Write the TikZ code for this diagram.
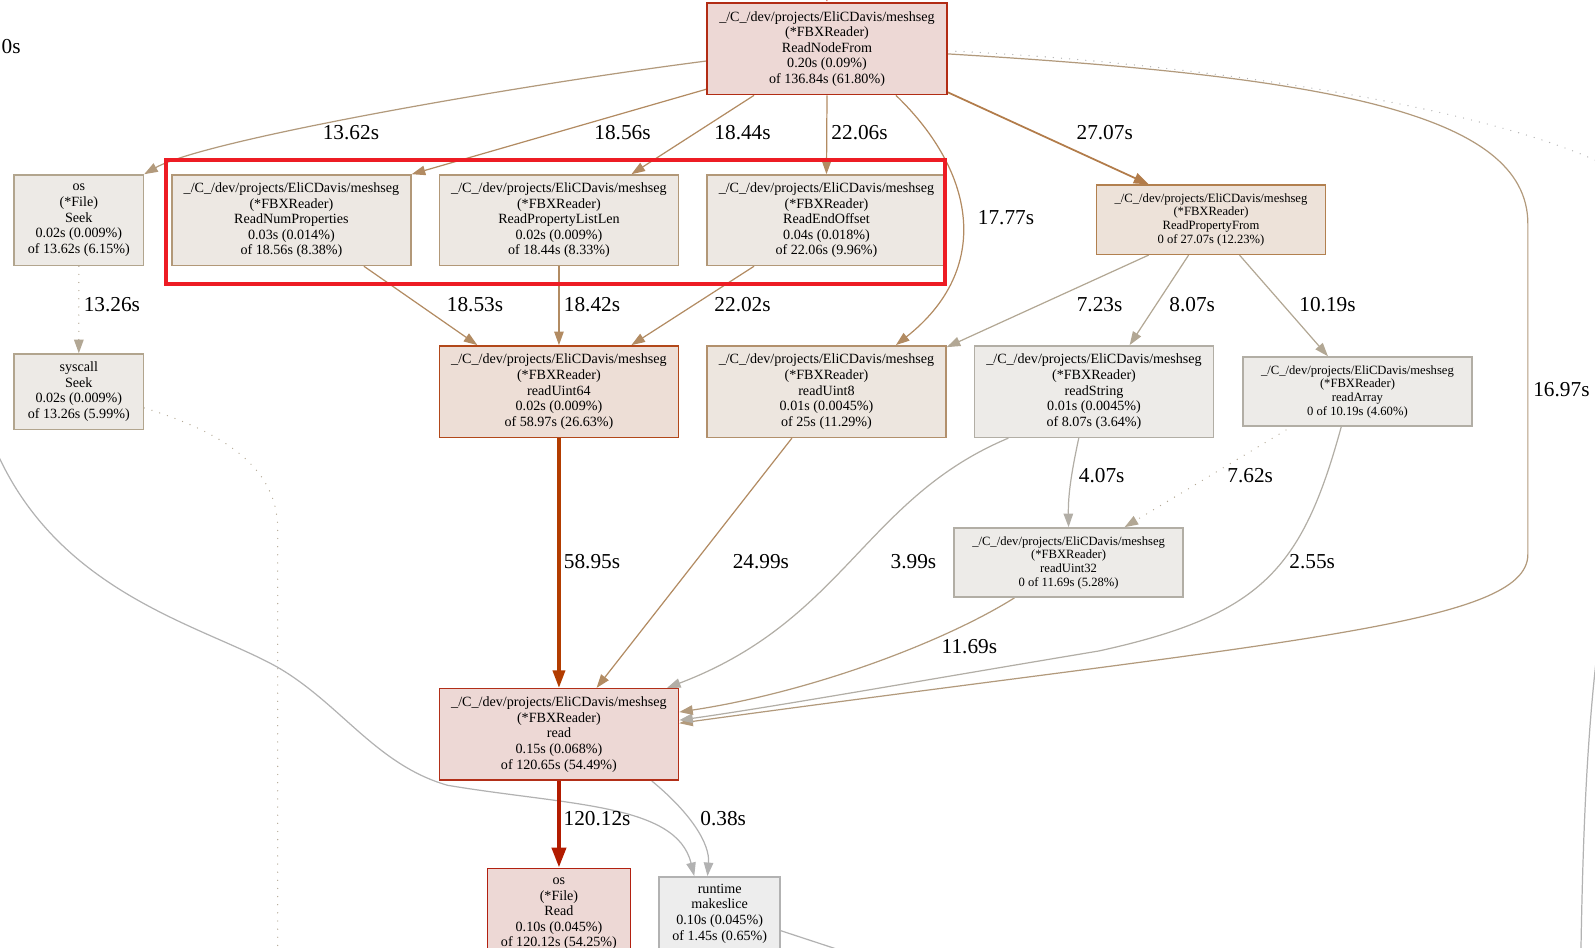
\documentclass[tikz,border=0pt]{standalone}
\usepackage{fontspec}
\setmainfont{Liberation Serif}
\usetikzlibrary{arrows.meta,calc}
\pgfdeclarelayer{bg}
\pgfsetlayers{bg,main}
\definecolor{fRed}{HTML}{EDD8D5}
\definecolor{bRnf}{HTML}{B22C14}
\definecolor{bRd}{HTML}{B22F18}
\definecolor{bOread}{HTML}{B22010}
\definecolor{fU64}{HTML}{EDDED6}
\definecolor{bU64}{HTML}{B2481A}
\definecolor{fU8}{HTML}{EDE6DF}
\definecolor{bU8}{HTML}{B2906C}
\definecolor{fRpf}{HTML}{EDE2D9}
\definecolor{bRpf}{HTML}{B2804F}
\definecolor{fMid}{HTML}{EDE8E3}
\definecolor{bMid}{HTML}{B29878}
\definecolor{fSeek}{HTML}{EDEAE6}
\definecolor{bSeek}{HTML}{B2A58E}
\definecolor{fGr}{HTML}{EDEBE8}
\definecolor{bGr}{HTML}{B2AEA5}
\definecolor{fMk}{HTML}{EDEDED}
\definecolor{bMk}{HTML}{B2B2B2}
\definecolor{hlRed}{HTML}{ED1C24}
\definecolor{eHot}{HTML}{B21B00}
\definecolor{eOr}{HTML}{B23C00}
\definecolor{eBr}{HTML}{B27C4A}
\definecolor{eTa}{HTML}{B28B62}
\definecolor{eTb}{HTML}{B29A7C}
\definecolor{eTc}{HTML}{B2A794}
\definecolor{eGa}{HTML}{B2AEA6}
\definecolor{eGb}{HTML}{B2B2B2}
\newcommand\bx[7]{\node[#6, minimum width={(#4-#2)*0.75pt}, minimum height={(#5-#3)*0.75pt}] (#1) at ({(#2+#4)/2},{(#3+#5)/2}) {#7};}
\tikzset{
  box/.style={draw, rectangle, inner sep=0pt, align=center, line width=1.1pt, font=\fontsize{10.4}{11.5}\selectfont},
  sbox/.style={box, font=\fontsize{9.3}{10.1}\selectfont},
  hlbox/.style={draw=hlRed, rectangle, inner sep=0pt, line width=3pt},
  elab/.style={inner sep=0pt, font=\fontsize{15.7}{17}\selectfont},
  ed/.style={line width=0.9pt, -{Triangle[length=10pt,width=7pt]}},
  dotl/.style={line width=1pt, line cap=round, dash pattern=on 0pt off 6pt},
}
\begin{document}
\begin{tikzpicture}[x=0.75pt,y=-0.75pt]
\useasboundingbox (0,0) rectangle (1568,931);
\clip (0,0) rectangle (1568,931);

% nodes
\bx{rnf}{695}{3}{931}{93}{box,draw=bRnf,fill=fRed}{\_/C\_/dev/projects/EliCDavis/meshseg\\(*FBXReader)\\ReadNodeFrom\\0.20s (0.09\%)\\of 136.84s (61.80\%)}
\bx{oseek}{14}{172}{141}{261}{box,draw=bSeek,fill=fSeek}{os\\(*File)\\Seek\\0.02s (0.009\%)\\of 13.62s (6.15\%)}
\bx{rnp}{169}{172}{404}{261}{box,draw=bMid,fill=fMid}{\_/C\_/dev/projects/EliCDavis/meshseg\\(*FBXReader)\\ReadNumProperties\\0.03s (0.014\%)\\of 18.56s (8.38\%)}
\bx{rpl}{432}{172}{667}{261}{box,draw=bMid,fill=fMid}{\_/C\_/dev/projects/EliCDavis/meshseg\\(*FBXReader)\\ReadPropertyListLen\\0.02s (0.009\%)\\of 18.44s (8.33\%)}
\bx{reo}{695}{172}{930}{261}{box,draw=bMid,fill=fMid}{\_/C\_/dev/projects/EliCDavis/meshseg\\(*FBXReader)\\ReadEndOffset\\0.04s (0.018\%)\\of 22.06s (9.96\%)}
\bx{rpf}{1078}{182}{1303}{250}{sbox,draw=bRpf,fill=fRpf}{\_/C\_/dev/projects/EliCDavis/meshseg\\(*FBXReader)\\ReadPropertyFrom\\0 of 27.07s (12.23\%)}
\bx{sseek}{14}{348}{141}{422}{box,draw=bSeek,fill=fSeek}{syscall\\Seek\\0.02s (0.009\%)\\of 13.26s (5.99\%)}
\bx{u64}{432}{340}{667}{430}{box,draw=bU64,fill=fU64}{\_/C\_/dev/projects/EliCDavis/meshseg\\(*FBXReader)\\readUint64\\0.02s (0.009\%)\\of 58.97s (26.63\%)}
\bx{u8}{695}{340}{930}{430}{box,draw=bU8,fill=fU8}{\_/C\_/dev/projects/EliCDavis/meshseg\\(*FBXReader)\\readUint8\\0.01s (0.0045\%)\\of 25s (11.29\%)}
\bx{rstr}{958}{340}{1193}{430}{box,draw=bGr,fill=fGr}{\_/C\_/dev/projects/EliCDavis/meshseg\\(*FBXReader)\\readString\\0.01s (0.0045\%)\\of 8.07s (3.64\%)}
\bx{rarr}{1222}{351}{1447}{419}{sbox,draw=bGr,fill=fGr}{\_/C\_/dev/projects/EliCDavis/meshseg\\(*FBXReader)\\readArray\\0 of 10.19s (4.60\%)}
\bx{u32}{938}{519}{1163}{587}{sbox,draw=bGr,fill=fGr}{\_/C\_/dev/projects/EliCDavis/meshseg\\(*FBXReader)\\readUint32\\0 of 11.69s (5.28\%)}
\bx{rd}{432}{677}{667}{767}{box,draw=bRd,fill=fRed}{\_/C\_/dev/projects/EliCDavis/meshseg\\(*FBXReader)\\read\\0.15s (0.068\%)\\of 120.65s (54.49\%)}
\bx{oread}{479}{854}{620}{943}{box,draw=bOread,fill=fRed}{os\\(*File)\\Read\\0.10s (0.045\%)\\of 120.12s (54.25\%)}
\bx{mks}{648}{862}{767}{934}{box,draw=bMk,fill=fMk}{runtime\\makeslice\\0.10s (0.045\%)\\of 1.45s (0.65\%)}

\bx{hl}{163}{157}{929}{279}{hlbox}{}

% free ends
\coordinate (topin) at (812,-25);
\coordinate (offR1) at (1578,162);
\coordinate (offR2) at (1572,625);
\coordinate (offR3) at (1554,945);
\coordinate (offL) at (-3,445);
\coordinate (offB) at (273,945);
\coordinate (offM) at (850,942);

\begin{pgfonlayer}{bg}
\draw[line width=4pt, draw=eHot, -{Triangle[length=15pt,width=11pt]}] (topin) -- (rnf.north);
\draw[ed, draw=eTb] ($(rnf.west)+(0,12)$) .. controls (500,85) and (200,138) .. (oseek.north east);
\draw[ed, draw=eTa] ($(rnf.south west)+(0,-6)$) -- (rnp.north east);
\draw[ed, draw=eTa] ($(rnf.south west)+(47,0)$) -- ($(rpl.north east)+(-47,0)$);
\draw[ed, draw=eTa] (rnf.south) -- (reo.north);
\draw[ed, draw=eTa] ($(rnf.south east)+(-51,0)$) .. controls (960,170) and (975,265) .. ($(u8.north east)+(-50,0)$);
\draw[line width=1.3pt, draw=eBr, -{Triangle[length=11pt,width=8pt]}] ($(rnf.south east)+(0,-3)$) -- ($(rpf.north west)+(52,0)$);
\draw[ed, draw=eTb] ($(rnf.east)+(0,5)$) .. controls (1300,75) and (1502,110) .. (1502,220) -- (1502,545) .. controls (1502,615) and (1260,630) .. ($(rd.east)+(0,-11)$);
\draw[dotl, draw=eGb] ($(rnf.east)+(0,2)$) .. controls (1150,60) and (1450,100) .. (offR1);
\draw[line width=0.9pt, draw=eGb] (offR2) .. controls (1560,720) and (1556,820) .. (offR3);

\draw[dotl, draw=eTc, -{Triangle[length=10pt,width=7pt]}] (oseek.south) -- (sseek.north);
\draw[dotl, draw=eTc] ($(sseek.east)+(0,16)$) .. controls (220,425) and (273,460) .. (273,520) -- (offB);

\draw[line width=0.9pt, draw=eGb, -{Triangle[length=10pt,width=7pt]}] (offL) .. controls (60,585) and (200,615) .. (273,656) .. controls (335,692) and (370,752) .. (440,772) .. controls (560,792) and (665,790) .. ($(mks.north)+(-25,0)$);

\draw[ed, draw=eTa] ($(rnp.south east)+(-47,0)$) -- ($(u64.north west)+(38,0)$);
\draw[ed, draw=eTa] (rpl.south) -- (u64.north);
\draw[ed, draw=eTa] ($(reo.south west)+(47,0)$) -- ($(u64.north east)+(-47,0)$);

\draw[ed, draw=eTc] ($(rpf.south west)+(52,0)$) -- ($(u8.north east)+(0,2)$);
\draw[ed, draw=eTc] ($(rpf.south)+(-22,0)$) -- ($(rstr.north)+(35,0)$);
\draw[ed, draw=eTc] ($(rpf.south)+(28,0)$) -- ($(rarr.north)+(-29,0)$);

\draw[line width=2.4pt, draw=eOr, -{Triangle[length=13pt,width=9pt]}] (u64.south) -- (rd.north);
\draw[ed, draw=eTa] ($(u8.south)+(-34,0)$) -- ($(rd.north)+(37,0)$);
\draw[ed, draw=eGa] ($(rstr.south west)+(34,0)$) .. controls (850,490) and (830,610) .. ($(rd.north east)+(-12,0)$);
\draw[ed, draw=eGa] ($(rstr.south)+(-15,0)$) .. controls (1052,470) and (1050,490) .. (u32.north);
\draw[dotl, draw=eTc, -{Triangle[length=10pt,width=7pt]}] ($(rarr.south west)+(43,3)$) -- ($(u32.north)+(55,0)$);
\draw[ed, draw=eGa] ($(rarr.south)+(-16,0)$) .. controls (1280,560) and (1240,605) .. (1080,640) .. controls (900,670) and (760,695) .. ($(rd.east)+(0,-14)$);
\draw[ed, draw=eTb] ($(u32.south west)+(60,0)$) .. controls (930,630) and (800,680) .. ($(rd.east)+(0,-22)$);

\draw[line width=3.6pt, draw=eHot, -{Triangle[length=15pt,width=10pt]}] (rd.south) -- (oread.north);
\draw[ed, draw=eGb] ($(rd.south east)+(-27,0)$) .. controls (680,800) and (698,830) .. ($(mks.north)+(-12,0)$);
\draw[line width=0.9pt, draw=eGb] ($(mks.east)+(0,17)$) -- (offM);
\end{pgfonlayer}

% labels
\node[elab] (l1) at (345,130) {13.62s};
\node[elab] (l2) at (612,130) {18.56s};
\node[elab] (l3) at (730,130) {18.44s};
\node[elab] (l4) at (845,130) {22.06s};
\node[elab] (l5) at (1086,130) {27.07s};
\node[elab] (l6) at (989,214) {17.77s};
\node[elab] (l7) at (110,299) {13.26s};
\node[elab] (l8) at (467,299) {18.53s};
\node[elab] (l9) at (582,299) {18.42s};
\node[elab] (l10) at (730,299) {22.02s};
\node[elab] (l11) at (1081,299) {7.23s};
\node[elab] (l12) at (1172,299) {8.07s};
\node[elab] (l13) at (1305,299) {10.19s};
\node[elab] (l14) at (1535,383) {16.97s};
\node[elab] (l15) at (1083,468) {4.07s};
\node[elab] (l16) at (1229,468) {7.62s};
\node[elab] (l17) at (582,552) {58.95s};
\node[elab] (l18) at (748,552) {24.99s};
\node[elab] (l19) at (898,552) {3.99s};
\node[elab] (l20) at (1290,552) {2.55s};
\node[elab] (l21) at (953,636) {11.69s};
\node[elab] (l22) at (587,805) {120.12s};
\node[elab] (l23) at (711,805) {0.38s};
\node[elab] (l24) at (11,46) {0s};
\end{tikzpicture}
\end{document}
